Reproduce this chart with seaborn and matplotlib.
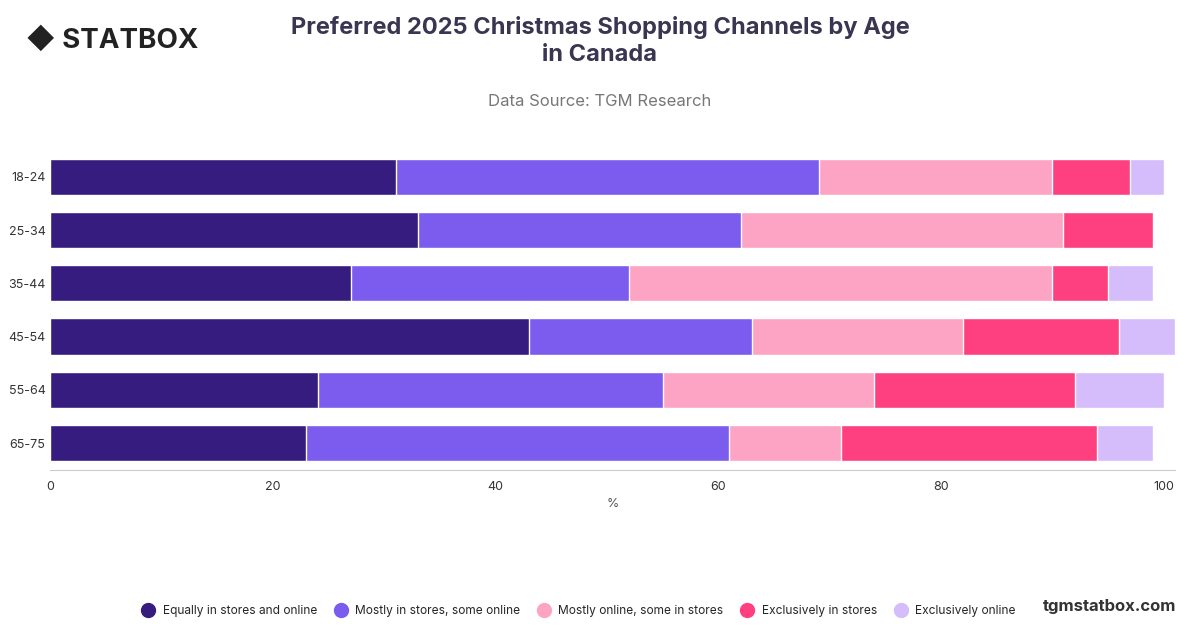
import numpy as np
import pandas as pd
import matplotlib.pyplot as plt
import seaborn as sns

ages = ["18-24", "25-34", "35-44", "45-54", "55-64", "65-75"]
channels = ["Equally in stores and online", "Mostly in stores, some online",
            "Mostly online, some in stores", "Exclusively in stores", "Exclusively online"]
equally = [31, 33, 27, 43, 24, 23]
mostly_stores = [38, 29, 25, 20, 31, 38]
mostly_online = [21, 29, 38, 19, 19, 10]
excl_stores = [7, 8, 5, 14, 18, 23]
excl_online = [3, 0, 4, 5, 8, 5]
colors = ["#371c80", "#7b5cee", "#fda4c4", "#fe3f80", "#d4bdfa"]

sns.set_style("white")
plt.rcParams['font.family'] = ['Inter', 'DejaVu Sans']

fig = plt.figure(figsize=(12, 6.28), dpi=100)
ax = fig.add_axes([0.042, 0.252, 0.937, 0.509])

series = [equally, mostly_stores, mostly_online, excl_stores, excl_online]
cum = np.cumsum(np.array(series), axis=0)
# draw from the largest cumulative total down so each segment shows
for i in range(len(series) - 1, -1, -1):
    df = pd.DataFrame({"age": ages, "val": cum[i]})
    sns.barplot(data=df, y="age", x="val", color=colors[i], width=0.68,
                saturation=1, ax=ax, orient="h")

ax.set_xlim(0, 101)
ax.set_xticks([0, 20, 40, 60, 80, 100])
ax.set_xlabel("%", fontsize=9, color="#555555")
ax.set_ylabel("")
ax.tick_params(axis="both", labelsize=9, colors="#333333", length=0)
ax.tick_params(axis="x", pad=8)
for s in ["top", "right", "left"]:
    ax.spines[s].set_visible(False)
ax.spines["bottom"].set_color("#cccccc")

fig.text(0.5, 0.935, "Preferred 2025 Christmas Shopping Channels by Age\nin Canada",
         ha="center", va="center", fontsize=17, fontweight="bold", color="#3a3550",
         linespacing=1.3)
fig.text(0.5, 0.838, "Data Source: TGM Research", ha="center", va="center",
         fontsize=12, color="#777777")
fig.text(0.022, 0.935, "◆ STATBOX", ha="left", va="center", fontsize=20,
         fontweight="bold", color="#222222")
fig.text(0.98, 0.035, "tgmstatbox.com", ha="right", va="center", fontsize=12,
         fontweight="bold", color="#333333")

handles = [plt.Line2D([], [], marker="o", ls="", markersize=10, color=c) for c in colors]
fig.legend(handles, channels, loc="center", bbox_to_anchor=(0.48, 0.027), ncol=5,
           frameon=False, fontsize=8.6, handletextpad=0.2, columnspacing=1.0)

fig.savefig("out.png", dpi=100)
